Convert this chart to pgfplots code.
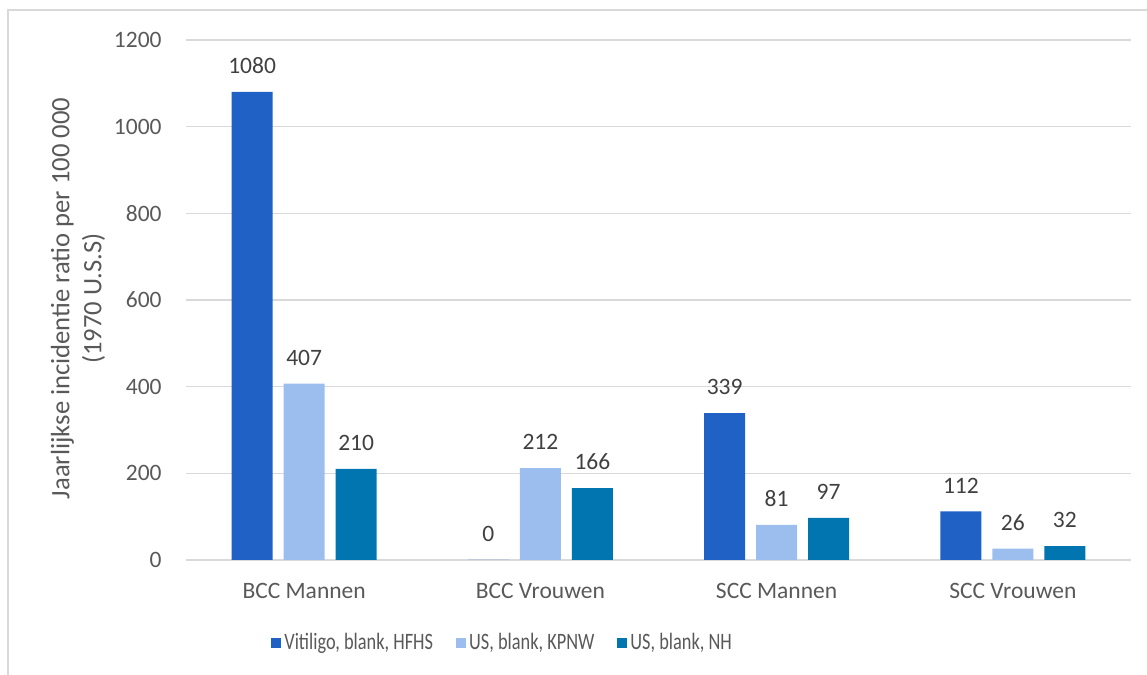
\documentclass[border=0pt]{standalone}
\usepackage{fontspec}
\setmainfont{Carlito}
\newfontfamily\legendfont{Carlito}[FakeStretch=0.78]
\usepackage{pgfplots}
\pgfplotsset{compat=1.18}
\definecolor{serA}{HTML}{1F61C4}
\definecolor{serB}{HTML}{9BBEEE}
\definecolor{serC}{HTML}{0075B0}
\definecolor{gridgray}{HTML}{D9D9D9}
\definecolor{textgray}{HTML}{595959}
\definecolor{labelgray}{HTML}{404040}
\newcommand{\chartfont}{\fontsize{11.75}{12.5}\selectfont}
\pgfplotsset{
  sqlegend/.style={legend image code/.code={\fill[##1] (0pt,-2.5pt) rectangle (5pt,2.5pt);}}
}
\begin{document}
\begin{tikzpicture}
\useasboundingbox (0,0) rectangle (573.5pt,337.5pt);
% chart area frame
\draw[gridgray, line width=0.75pt] (4pt,-1pt) -- (4pt,332.5pt) -- (574pt,332.5pt);
\begin{axis}[
  at={(93pt,57.5pt)}, anchor=south west,
  scale only axis, width=472.5pt, height=260pt,
  ybar, bar width=20.5pt,
  xmin=-0.5, xmax=3.5, ymin=0, ymax=1200,
  xtick={0,1,2,3},
  xticklabels={BCC Mannen, BCC Vrouwen, SCC Mannen, SCC Vrouwen},
  ytick={0,200,...,1200},
  separate axis lines,
  axis x line*=bottom, axis y line*=left,
  x axis line style={gridgray, line width=0.75pt, -},
  y axis line style={draw=none},
  ymajorgrids, grid style={gridgray, line width=0.75pt},
  tick style={draw=none},
  ticklabel style={font=\chartfont, text=textgray},
  yticklabel style={inner sep=0pt, xshift=-12pt},
  xticklabel style={inner sep=0pt, yshift=-7pt},
  /pgf/number format/1000 sep={},
  /pgf/number format/assume math mode=true,
  nodes near coords,
  every node near coord/.append style={font=\chartfont, text=labelgray, inner sep=0pt, yshift=9pt},
  ylabel={Jaarlijkse incidentie ratio per 100 000\\(1970 U.S.S)},
  ylabel style={at={(axis description cs:-0.1143,0.503)}, anchor=center, align=center,
    font=\fontsize{13.3}{16}\selectfont, text=textgray},
  legend columns=3,
  legend style={at={(axis description cs:0.0899,-0.1596)}, anchor=west, draw=none, inner sep=0pt,
    font=\legendfont\chartfont, text=textgray,
    nodes={inner sep=1.5pt},
    /tikz/every even column/.append style={column sep=10pt}},
]
\addplot[fill=serA, draw=none, bar shift=-26pt, sqlegend] coordinates {(0,1080) (1,0) (2,339) (3,112)};
\addlegendentry{Vitiligo, blank, HFHS}
\addplot[fill=serB, draw=none, bar shift=0pt, sqlegend] coordinates {(0,407) (1,212) (2,81) (3,26)};
\addlegendentry{US, blank, KPNW}
\addplot[fill=serC, draw=none, bar shift=26pt, sqlegend] coordinates {(0,210) (1,166) (2,97) (3,32)};
\addlegendentry{US, blank, NH}
\end{axis}
\end{tikzpicture}
\end{document}
